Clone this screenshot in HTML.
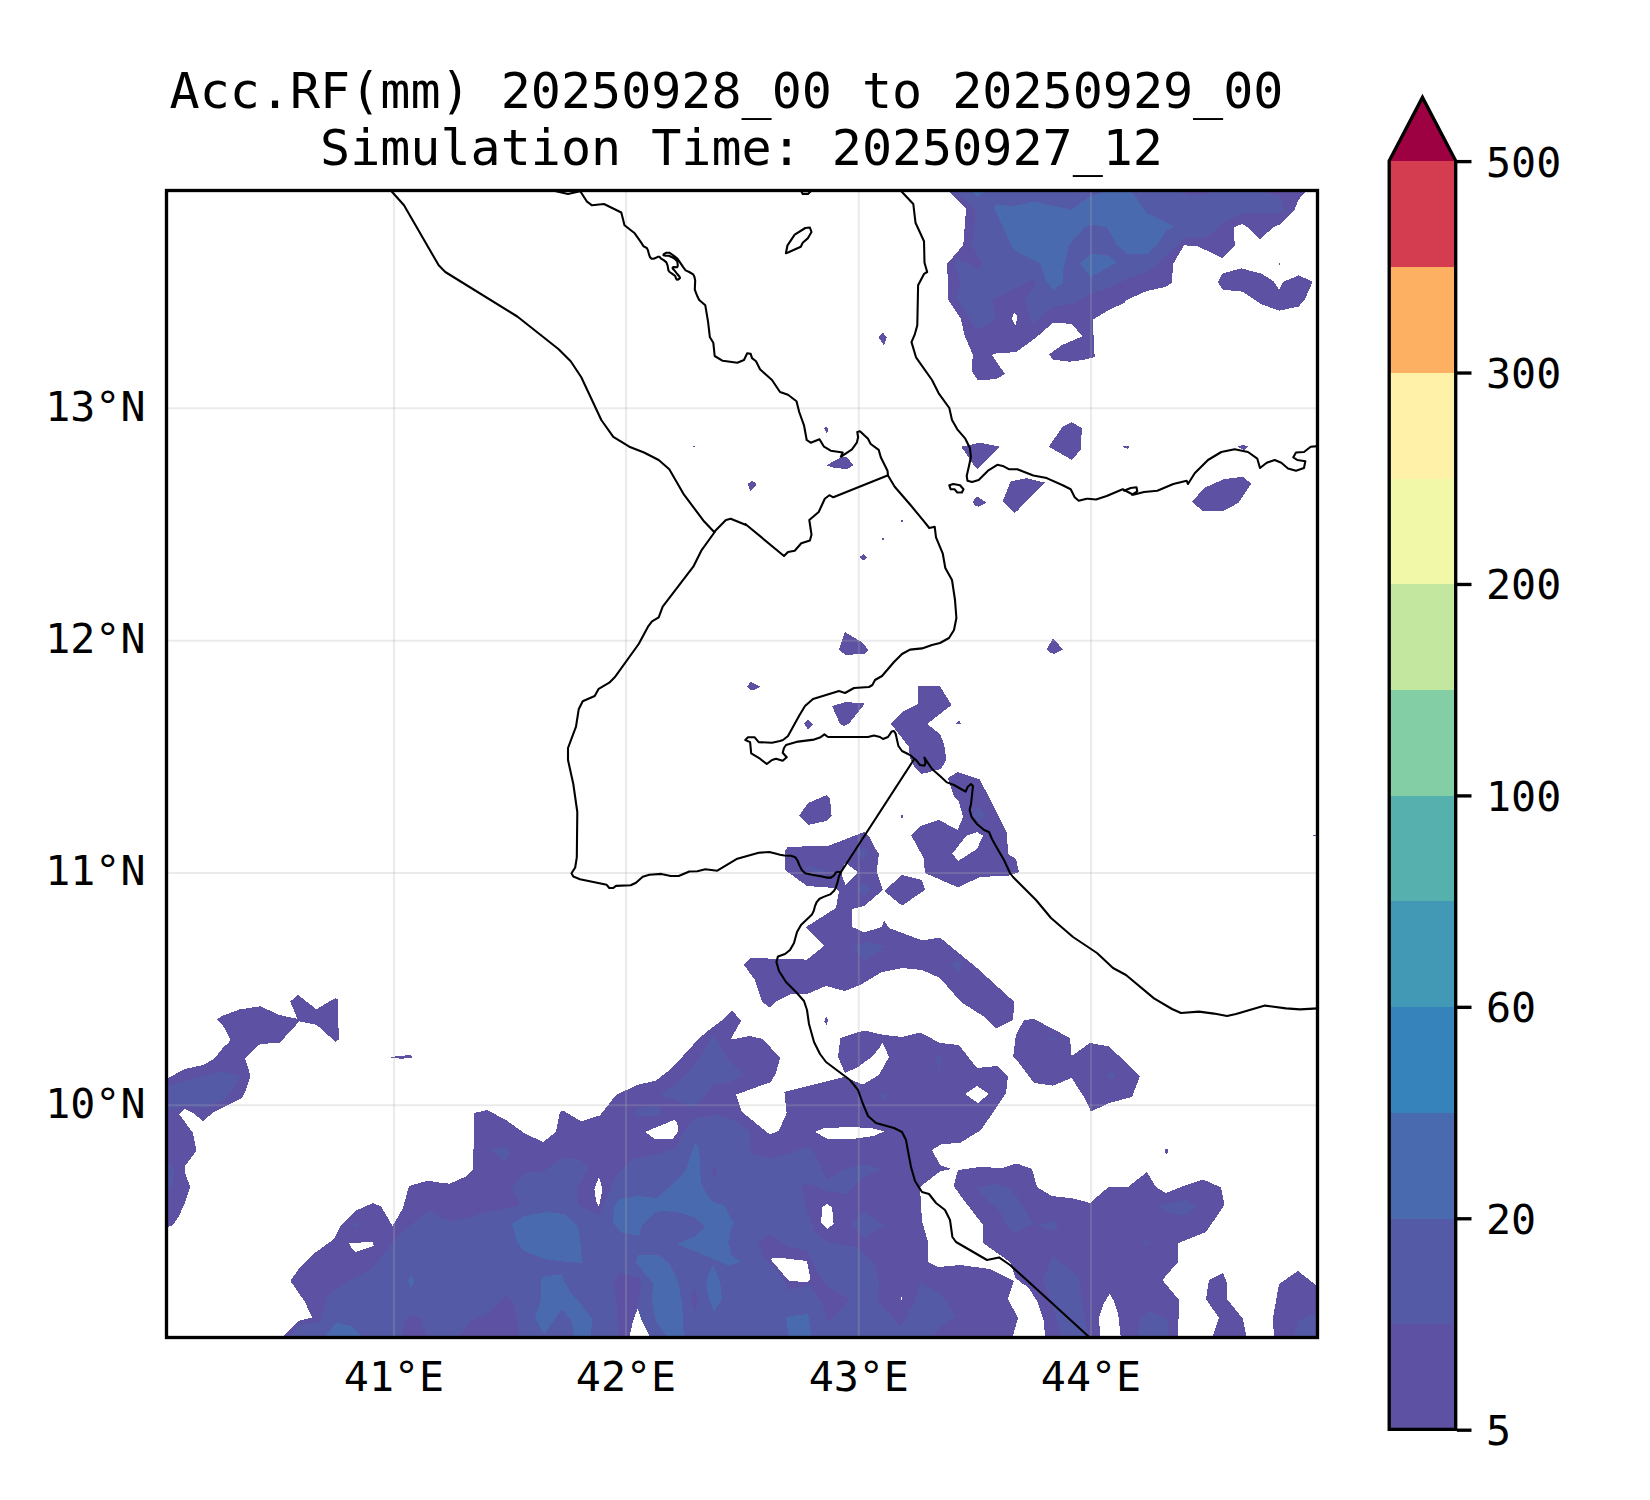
<!DOCTYPE html>
<html lang="en"><head><meta charset="utf-8"><title>Acc.RF(mm) 20250928_00 to 20250929_00</title>
<style>
html,body{margin:0;padding:0;background:#fff;}
body{width:1650px;height:1500px;overflow:hidden;}
svg{display:block;}
text{font-family:"DejaVu Sans Mono","Liberation Mono",monospace;fill:#000;}
.t{font-size:50px;text-anchor:middle;}
.k{font-size:41.67px;}
</style></head><body>
<svg width="1650" height="1500" viewBox="0 0 1650 1500">
<rect x="0" y="0" width="1650" height="1500" fill="#ffffff"/>
<defs><clipPath id="mc"><rect x="166.5" y="190.5" width="1151" height="1147"/></clipPath>
<clipPath id="c1"><rect x="780" y="600" width="300" height="250"/></clipPath>
<clipPath id="c2"><rect x="920" y="190" width="205" height="205"/></clipPath>
<clipPath id="c3"><rect x="1125" y="190" width="193" height="205"/></clipPath>
<clipPath id="c4"><rect x="730" y="850" width="290" height="195"/></clipPath>
<clipPath id="c5"><rect x="730" y="1045" width="290" height="293"/></clipPath>
<clipPath id="c6"><rect x="1020" y="1045" width="298" height="293"/></clipPath>
<clipPath id="c7"><rect x="440" y="1045" width="290" height="293"/></clipPath>
<clipPath id="c8"><rect x="440" y="950" width="290" height="95"/></clipPath>
<clipPath id="c9"><rect x="166" y="1045" width="274" height="293"/></clipPath>
<clipPath id="c10"><rect x="166" y="950" width="274" height="95"/></clipPath>
</defs>
<g clip-path="url(#mc)" shape-rendering="crispEdges" stroke="none" fill-rule="evenodd">
<g>
<path fill="#5c51a3" d="M692.0 446.1 L694.7 445.6 L694.7 447.5Z"/>
<path fill="#5c51a3" d="M878.7 337.3 L883.2 332.8 L886.7 337.3 L884.0 345.3Z"/>
<path fill="#5c51a3" d="M824.0 428.0 L826.7 426.7 L828.5 429.3 L826.7 433.3Z"/>
<path fill="#5c51a3" d="M826.1 465.3 L841.3 457.3 L846.7 456.8 L853.3 465.3 L846.7 469.3 L833.3 467.5Z"/>
<path fill="#5c51a3" d="M747.5 484.0 L752.0 480.8 L756.8 484.0 L750.7 491.5Z"/>
<path fill="#5c51a3" d="M860.0 557.3 L864.0 553.9 L866.7 557.3 L863.2 560.8Z"/>
<path fill="#5c51a3" d="M901.1 520.0 L902.7 520.0 L902.7 521.6 L901.1 521.6Z"/>
<path fill="#5c51a3" d="M882.1 537.9 L883.7 537.9 L883.7 539.5 L882.1 539.5Z"/>
<path fill="#5c51a3" d="M961.3 446.7 L980.0 442.7 L1000.0 446.7 L977.3 469.3 L972.0 462.7Z"/>
<path fill="#5c51a3" d="M1048.8 446.7 L1062.7 426.7 L1071.5 422.1 L1081.9 428.0 L1080.8 449.3 L1072.0 460.0Z"/>
<path fill="#5c51a3" d="M1002.7 501.3 L1010.7 481.3 L1026.7 478.1 L1045.3 482.7 L1014.7 513.3Z"/>
<path fill="#5c51a3" d="M972.8 501.3 L977.3 496.5 L986.7 502.7 L978.7 506.7 L974.7 505.9Z"/>
<path fill="#5c51a3" d="M1121.3 446.7 L1129.3 445.9 L1128.0 448.8Z"/>
<path fill="#5c51a3" d="M1237.3 446.7 L1242.7 444.8 L1248.5 446.7 L1244.0 449.9Z"/>
<path fill="#5c51a3" d="M1192.0 502.1 L1204.0 488.0 L1224.0 479.2 L1242.7 476.8 L1251.2 483.5 L1238.7 502.7 L1224.0 510.7 L1202.7 510.7Z"/>
<path fill="#5c51a3" d="M882.1 538.1 L883.7 538.1 L883.7 539.7 L882.1 539.7Z"/>
<path fill="#5c51a3" d="M860.0 556.8 L864.0 553.9 L866.7 557.3 L864.0 560.8Z"/>
<path fill="#5c51a3" d="M746.7 686.7 L750.7 682.1 L760.8 686.7 L752.0 690.7Z"/>
<path fill="#5c51a3" d="M839.0 650.0 L845.0 632.0 L860.0 641.0 L865.0 645.0 L868.0 650.0 L865.0 653.6 L846.0 655.0Z"/>
<path fill="#5c51a3" d="M1047.0 649.0 L1053.0 638.0 L1063.0 649.6 L1054.0 654.0 L1050.0 652.4Z"/>
<path fill="#5c51a3" d="M832.0 706.0 L846.0 702.0 L865.0 703.6 L849.0 723.6 L844.0 726.0 L840.0 724.0Z"/>
<path fill="#5c51a3" d="M804.0 723.0 L808.0 719.6 L813.0 724.4 L808.0 730.0Z"/>
<path fill="#5c51a3" d="M956.0 724.0 L959.0 720.0 L961.0 724.4Z"/>
<path fill="#5c51a3" d="M918.4 686.0 L940.0 686.4 L951.6 705.0 L927.0 724.0 L940.0 734.0 L944.0 744.0 L946.4 760.0 L941.0 769.0 L928.0 772.4 L921.0 774.0 L915.0 768.0 L910.0 758.0 L909.0 747.0 L891.0 724.0 L902.0 712.0 L918.4 704.0Z"/>
<path fill="#5c51a3" d="M799.0 816.0 L808.0 803.0 L827.0 795.0 L830.0 799.0 L831.6 816.0 L826.4 821.0 L808.0 825.0Z"/>
<path fill="#5c51a3" d="M901.4 815.0 L902.8 815.0 L902.8 817.6 L901.4 817.6Z"/>
<path fill="#5c51a3" d="M948.0 778.0 L958.0 772.0 L980.0 779.6 L1007.0 833.0 L1008.0 854.0 L1016.0 859.0 L1019.0 872.0 L1009.0 875.6 L980.0 877.0 L958.0 887.4 L925.0 873.0 L923.6 858.0 L911.0 835.0 L920.0 826.0 L939.0 820.0 L957.6 830.0 L963.0 817.0 L959.0 802.0 L954.0 797.0Z M952.4 853.6 L966.0 836.0 L977.0 832.0 L983.0 835.6 L977.0 849.0 L958.0 861.0Z"/>
<path fill="#555aa7" d="M973.0 815.0 L978.0 806.0 L985.0 815.0 L979.0 822.0Z"/>
<path fill="#5c51a3" d="M1024.0 1020.0 L1034.0 1019.0 L1070.0 1038.0 L1071.6 1056.0 L1090.0 1043.0 L1109.0 1046.4 L1140.0 1076.0 L1132.0 1097.0 L1109.0 1103.0 L1091.0 1111.6 L1084.0 1097.0 L1071.6 1078.0 L1053.0 1085.6 L1034.0 1083.0 L1019.3 1063.3 L1013.3 1056.7 L1016.0 1034.7Z"/>
<path fill="#555aa7" d="M1047.0 1038.0 L1055.0 1038.0 L1053.0 1041.0Z"/>
<path fill="#555aa7" d="M1107.0 1076.0 L1110.0 1070.0 L1115.0 1076.0 L1111.0 1079.0Z"/>
<path fill="#5c51a3" d="M1312.5 835.6 L1318.0 833.6 L1318.0 836.4Z"/>
<path fill="#5c51a3" d="M388.0 1057.2 L410.0 1055.0 L412.4 1057.4 L402.0 1058.8Z"/>
</g>
<g clip-path="url(#c1)">
<path fill="#5c51a3" d="M785.0 855.0 L787.0 847.0 L829.0 845.6 L846.0 839.0 L864.0 832.0 L869.0 836.0 L878.0 854.0 L878.0 860.0 L785.0 860.0Z"/>
</g>
<g clip-path="url(#c2)">
<path fill="#5c51a3" d="M948.0 191.0 L966.0 209.0 L963.3 245.0 L947.3 263.7 L948.0 299.7 L960.7 318.3 L964.7 335.7 L972.7 354.3 L972.0 371.7 L977.3 379.7 L989.3 379.7 L998.0 378.3 L1004.7 373.7 L992.0 355.0 L996.7 353.0 L1016.0 352.3 L1036.7 337.0 L1052.7 323.0 L1071.3 323.7 L1082.7 336.3 L1062.0 345.0 L1049.3 354.3 L1052.7 359.7 L1070.0 361.7 L1084.7 359.7 L1094.7 357.0 L1092.7 319.7 L1110.7 309.0 L1130.7 300.3 L1130.7 191.0Z M1014.0 313.0 L1016.0 313.7 L1017.3 318.3 L1015.3 325.7 L1012.0 319.0Z"/>
<path fill="#555aa7" d="M955.3 191.0 L974.0 208.3 L976.0 214.3 L972.0 243.7 L976.0 253.0 L983.3 263.7 L977.3 269.0 L966.0 262.3 L957.3 259.7 L954.7 265.0 L960.7 283.0 L956.7 298.3 L976.7 329.7 L996.0 319.7 L992.7 299.7 L1034.0 279.0 L1035.3 284.3 L1025.3 299.7 L1029.3 316.3 L1034.0 323.7 L1052.7 306.3 L1071.3 304.3 L1090.0 294.3 L1110.0 287.7 L1130.7 277.0 L1130.7 191.0Z"/>
<path fill="#496aaf" d="M971.3 191.0 L977.3 196.3 L986.0 191.0Z"/>
<path fill="#496aaf" d="M994.0 207.7 L996.7 204.3 L1012.7 206.3 L1034.0 201.7 L1071.3 209.7 L1090.0 196.3 L1108.7 191.0 L1130.7 191.0 L1130.7 255.7 L1116.7 245.0 L1107.3 227.4 L1092.0 224.7 L1084.7 227.7 L1072.7 239.7 L1068.7 246.3 L1063.3 270.3 L1062.7 283.0 L1053.3 289.7 L1046.0 281.0 L1040.7 263.7 L1016.7 251.7 L1011.3 245.0Z"/>
<path fill="#496aaf" d="M1080.0 263.7 L1090.7 253.7 L1108.7 255.7 L1116.0 263.0 L1090.7 277.0Z"/>
</g>
<g clip-path="url(#c3)">
<path fill="#5c51a3" d="M1119.3 303.3 L1146.7 291.0 L1165.3 287.0 L1171.7 283.0 L1173.3 263.7 L1184.0 245.3 L1197.3 246.1 L1222.7 258.1 L1234.7 245.7 L1234.0 227.4 L1242.0 223.9 L1248.0 227.4 L1260.0 239.0 L1273.3 227.4 L1280.0 224.3 L1294.7 209.7 L1298.0 200.3 L1306.0 191.0 L1119.3 191.0Z"/>
<path fill="#555aa7" d="M1119.3 281.3 L1148.0 271.7 L1168.0 254.3 L1184.0 238.3 L1205.3 238.3 L1225.3 221.7 L1242.7 213.0 L1280.7 213.0 L1284.0 208.3 L1279.3 197.0 L1261.3 191.0 L1210.7 191.0 L1202.7 195.0 L1189.3 195.7 L1178.7 191.0 L1119.3 191.0Z"/>
<path fill="#496aaf" d="M1119.3 248.7 L1126.7 254.3 L1147.3 254.1 L1158.7 242.3 L1166.7 229.7 L1174.7 226.6 L1146.7 213.0 L1141.3 205.0 L1131.3 191.0 L1119.3 191.0Z"/>
<path fill="#5c51a3" d="M1218.0 282.1 L1222.0 273.7 L1241.3 268.3 L1261.3 273.7 L1273.3 281.0 L1279.3 289.7 L1283.3 281.7 L1298.7 275.4 L1312.7 281.7 L1304.7 299.7 L1298.7 306.6 L1279.3 310.6 L1261.3 304.3 L1242.7 291.7 L1222.7 289.7Z"/>
<path fill="#5c51a3" d="M1278.9 263.4 L1279.9 263.4 L1279.9 264.6 L1278.9 264.6Z"/>
</g>
<g clip-path="url(#c4)">
<path fill="#5c51a3" d="M785.0 849.0 L785.0 870.0 L807.0 886.0 L835.0 888.0 L839.0 891.0 L836.0 908.0 L806.0 927.0 L824.0 946.0 L807.0 959.6 L750.0 958.0 L744.0 965.0 L755.0 980.0 L762.0 1002.0 L770.0 1007.6 L777.0 1001.0 L790.0 994.4 L808.0 993.6 L826.0 986.0 L845.0 991.0 L860.0 985.0 L882.0 972.0 L902.0 968.0 L922.0 970.0 L940.0 978.0 L961.0 1002.0 L986.0 1018.0 L996.0 1028.4 L1013.0 1020.0 L1014.4 1002.0 L977.0 968.0 L940.0 937.6 L922.0 940.4 L889.0 928.0 L884.0 920.4 L882.0 927.0 L864.0 932.4 L852.4 927.0 L852.0 909.0 L864.0 906.0 L883.0 890.0 L876.6 871.8 L879.0 853.4 L875.4 849.0Z"/>
<path fill="#fff" d="M841.5 874.4 L845.1 862.5 L848.4 864.9 L857.8 872.2 L845.5 884.9Z"/>
<path fill="#5c51a3" d="M884.0 891.0 L902.0 875.0 L922.0 880.0 L925.0 890.0 L902.0 905.6Z"/>
<path fill="#5c51a3" d="M728.0 1014.4 L732.0 1010.0 L741.0 1021.0 L731.0 1038.4 L733.0 1039.2 L750.0 1036.0 L763.0 1039.0 L780.0 1058.0 L777.0 1072.0 L771.0 1081.0 L750.0 1088.0 L736.0 1095.0 L729.0 1098.0Z"/>
<path fill="#5c51a3" d="M838.0 1057.0 L840.4 1038.0 L864.0 1030.4 L884.0 1035.0 L902.0 1037.0 L920.0 1032.4 L940.0 1043.0 L958.0 1045.0 L970.0 1060.0 L890.0 1060.0 L889.0 1057.0 L882.4 1043.0 L873.0 1056.0 L868.0 1060.0 L839.0 1060.0Z"/>
<path fill="#5c51a3" d="M1031.0 1019.0 L1024.0 1020.0 L1016.0 1034.6 L1013.2 1056.6 L1019.2 1063.2 L1031.0 1078.0Z"/>
<path fill="#555aa7" d="M853.0 946.0 L866.0 941.6 L885.0 946.0 L864.0 961.0Z"/>
<path fill="#555aa7" d="M950.0 964.0 L957.0 960.0 L963.0 964.0 L959.0 972.0Z"/>
<path fill="#555aa7" d="M804.0 869.0 L810.0 866.0 L826.0 871.0 L820.0 873.0Z"/>
<path fill="#555aa7" d="M994.0 1002.0 L997.0 1000.0 L998.0 1003.0Z"/>
<path fill="#5c51a3" d="M825.0 1018.0 L827.0 1017.0 L828.0 1021.0 L826.4 1025.0 L824.4 1021.6Z"/>
</g>
<g clip-path="url(#c5)">
<path fill="#5c51a3" d="M729.0 1044.0 L1031.0 1044.0 L1031.0 1339.0 L729.0 1339.0Z"/>
<path fill="#fff" d="M763.0 1039.0 L780.0 1058.0 L776.0 1073.0 L771.0 1082.0 L736.0 1094.6 L742.0 1112.0 L770.0 1134.6 L779.0 1130.6 L786.6 1113.0 L784.4 1092.0 L844.0 1077.0 L863.0 1084.6 L879.0 1075.0 L889.0 1057.0 L883.0 1043.0 L873.0 1056.0 L858.0 1067.0 L845.0 1073.0 L838.0 1057.0 L839.6 1044.0Z"/>
<path fill="#fff" d="M958.0 1044.0 L977.0 1068.0 L997.0 1066.0 L1008.0 1076.0 L1006.0 1093.0 L996.0 1108.0 L981.0 1130.0 L960.0 1143.0 L942.0 1144.0 L932.0 1150.0 L940.0 1165.0 L951.0 1169.0 L940.0 1171.4 L920.0 1187.0 L922.0 1221.0 L928.0 1242.0 L928.0 1262.0 L938.0 1267.0 L960.0 1265.0 L990.0 1269.0 L1014.0 1281.0 L1008.0 1299.0 L1018.0 1318.0 L1012.0 1339.0 L1031.0 1339.0 L1031.0 1288.0 L1016.0 1279.0 L1010.0 1262.0 L983.0 1243.0 L983.0 1225.0 L963.0 1199.0 L953.6 1186.0 L958.0 1170.0 L979.0 1167.0 L1003.0 1168.0 L1016.0 1163.4 L1031.0 1167.0 L1034.0 1083.0 L1019.2 1063.2 L1013.2 1056.6 L1014.8 1044.0Z"/>
<path fill="#fff" d="M815.0 1132.0 L824.0 1128.0 L854.0 1127.0 L874.0 1128.6 L884.0 1131.4 L874.0 1136.0 L850.0 1139.4 L828.0 1139.0Z"/>
<path fill="#fff" d="M821.0 1223.0 L822.4 1207.0 L827.0 1204.0 L832.0 1207.0 L833.6 1224.0 L827.0 1229.0Z"/>
<path fill="#fff" d="M770.0 1258.6 L782.0 1258.0 L807.0 1261.0 L810.6 1279.0 L807.0 1282.0 L789.0 1281.0Z"/>
<path fill="#fff" d="M965.0 1094.0 L977.0 1086.0 L989.0 1094.0 L978.0 1103.0Z"/>
<path fill="#fff" d="M901.0 1297.0 L902.2 1297.0 L902.2 1300.2 L901.0 1300.2Z"/>
<path fill="#555aa7" d="M729.0 1118.0 L750.0 1131.0 L750.0 1149.0 L753.0 1154.0 L770.0 1158.0 L788.0 1154.0 L810.0 1146.0 L816.0 1157.0 L827.0 1180.0 L842.0 1170.0 L864.0 1164.0 L881.0 1169.0 L863.0 1178.0 L846.0 1194.0 L826.0 1191.0 L808.0 1183.0 L801.6 1187.4 L808.0 1215.0 L816.0 1233.0 L828.0 1242.0 L858.0 1248.0 L874.0 1263.0 L879.0 1281.0 L878.0 1301.0 L901.0 1327.0 L914.0 1303.0 L920.0 1283.0 L940.0 1293.0 L956.0 1317.0 L938.0 1329.0 L932.0 1339.0 L729.0 1339.0Z"/>
<path fill="#555aa7" d="M729.0 1061.0 L743.0 1075.0 L729.0 1082.0Z"/>
<path fill="#555aa7" d="M852.0 1224.0 L864.0 1211.0 L884.0 1225.0 L864.0 1238.0Z"/>
<path fill="#555aa7" d="M936.0 1057.0 L942.0 1056.0 L939.0 1071.0Z"/>
<path fill="#555aa7" d="M976.0 1187.4 L996.0 1184.0 L1009.0 1188.0 L1018.0 1199.0 L1026.0 1211.0 L1033.0 1224.0 L1019.0 1231.0 L1016.0 1233.0 L1005.0 1224.0 L1000.0 1211.0 L990.0 1203.0Z"/>
<path fill="#555aa7" d="M879.0 1094.0 L883.0 1092.4 L888.0 1095.0 L883.0 1099.6Z"/>
<path fill="#5c51a3" d="M758.0 1243.0 L769.0 1234.0 L788.0 1247.0 L807.0 1251.0 L814.0 1265.0 L826.0 1285.0 L850.0 1300.0 L828.0 1323.0 L822.0 1303.0 L810.0 1285.0 L789.0 1290.0 L778.0 1271.0 L763.0 1257.0Z"/>
<path fill="#fff" d="M770.0 1258.6 L782.0 1258.0 L807.0 1261.0 L810.6 1279.0 L807.0 1282.0 L789.0 1281.0Z"/>
<path fill="#496aaf" d="M786.0 1317.0 L808.0 1314.0 L812.0 1339.0 L789.0 1339.0Z"/>
<path fill="#496aaf" d="M729.0 1217.0 L734.0 1223.0 L729.0 1233.0Z"/>
<path fill="#496aaf" d="M729.0 1253.0 L741.0 1262.0 L729.0 1266.0Z"/>
</g>
<g clip-path="url(#c6)">
<path fill="#5c51a3" d="M1019.0 1164.6 L1032.0 1169.0 L1037.0 1187.0 L1052.0 1196.0 L1074.0 1198.6 L1090.0 1203.0 L1108.0 1187.4 L1128.0 1187.0 L1147.0 1172.0 L1156.0 1187.0 L1166.0 1193.0 L1186.0 1185.0 L1203.0 1179.4 L1221.0 1187.4 L1224.4 1205.0 L1206.0 1232.0 L1178.4 1243.0 L1178.0 1262.0 L1162.4 1280.0 L1179.0 1300.0 L1178.0 1339.0 L1121.0 1339.0 L1118.0 1313.0 L1114.0 1301.0 L1109.6 1294.0 L1104.0 1303.0 L1099.0 1318.0 L1100.4 1339.0 L1045.0 1339.0 L1044.0 1321.0 L1037.0 1301.0 L1028.0 1287.0 L1019.0 1281.4Z"/>
<path fill="#5c51a3" d="M1206.0 1299.0 L1209.0 1280.0 L1223.0 1273.0 L1227.0 1283.0 L1227.0 1299.0 L1243.0 1319.0 L1247.0 1339.0 L1212.0 1339.0 L1219.0 1318.0Z"/>
<path fill="#5c51a3" d="M1274.0 1339.0 L1273.0 1318.0 L1279.0 1284.0 L1298.0 1271.0 L1318.0 1286.6 L1318.0 1339.0Z"/>
<path fill="#5c51a3" d="M1165.0 1149.0 L1168.0 1149.0 L1168.0 1153.0 L1165.6 1154.0Z"/>
<path fill="#555aa7" d="M976.0 1187.4 L996.0 1184.0 L1009.0 1188.0 L1018.0 1199.0 L1026.0 1211.0 L1033.0 1224.0 L1019.0 1231.0 L1016.0 1233.0 L1005.0 1224.0 L1000.0 1211.0 L990.0 1203.0Z"/>
<path fill="#555aa7" d="M1037.0 1225.0 L1054.0 1221.0 L1058.0 1225.0 L1053.0 1231.0Z"/>
<path fill="#555aa7" d="M1159.0 1206.0 L1184.0 1200.0 L1196.0 1206.6 L1185.0 1215.4 L1172.0 1214.0Z"/>
<path fill="#555aa7" d="M1143.6 1242.0 L1146.4 1240.0 L1149.0 1243.0 L1146.4 1246.0Z"/>
<path fill="#555aa7" d="M1053.0 1256.0 L1079.0 1277.0 L1082.0 1301.0 L1087.0 1329.0 L1089.0 1339.0 L1062.0 1339.0 L1052.0 1303.0 L1043.0 1280.0Z"/>
<path fill="#555aa7" d="M1137.0 1339.0 L1140.0 1319.0 L1148.0 1311.0 L1167.0 1318.0 L1169.0 1339.0Z"/>
<path fill="#555aa7" d="M1293.0 1339.0 L1299.0 1320.0 L1318.0 1312.0 L1318.0 1339.0Z"/>
</g>
<g clip-path="url(#c7)">
<path fill="#5c51a3" d="M439.0 1044.0 L741.0 1044.0 L741.0 1339.0 L439.0 1339.0Z"/>
<path fill="#fff" d="M439.0 1044.0 L694.0 1044.0 L672.0 1068.0 L656.0 1080.6 L637.0 1085.0 L616.0 1095.0 L600.0 1115.4 L581.0 1121.4 L563.0 1110.6 L560.0 1112.0 L556.0 1132.0 L543.0 1142.0 L524.0 1133.0 L506.0 1120.0 L487.0 1110.0 L474.4 1113.0 L473.0 1169.0 L467.0 1176.0 L450.0 1183.6 L439.0 1183.0Z"/>
<path fill="#fff" d="M645.0 1132.0 L674.0 1120.0 L677.0 1122.0 L678.4 1131.0 L673.0 1138.6 L655.0 1139.0Z"/>
<path fill="#fff" d="M594.4 1189.0 L599.0 1177.0 L602.4 1189.0 L599.0 1207.0 L596.0 1201.0Z"/>
<path fill="#fff" d="M629.0 1339.0 L633.0 1321.0 L637.6 1309.0 L642.0 1321.0 L651.0 1339.0Z"/>
<path fill="#fff" d="M736.0 1094.6 L742.0 1093.0 L742.0 1112.0Z"/>
<path fill="#555aa7" d="M439.0 1217.0 L450.0 1221.0 L468.0 1218.6 L482.0 1213.0 L520.0 1205.0 L511.6 1188.0 L524.0 1173.0 L544.0 1171.0 L562.0 1158.0 L580.0 1160.0 L589.0 1168.0 L577.0 1188.0 L578.0 1205.0 L599.0 1215.0 L606.0 1199.0 L616.0 1175.0 L632.0 1159.0 L660.0 1153.0 L676.0 1148.0 L683.0 1133.0 L695.0 1118.0 L718.0 1115.0 L741.0 1122.0 L741.0 1339.0 L439.0 1339.0Z"/>
<path fill="#555aa7" d="M661.0 1095.0 L685.0 1076.0 L703.0 1053.6 L709.0 1040.0 L717.0 1039.6 L727.0 1058.0 L744.0 1076.0 L728.4 1082.6 L713.0 1085.0 L709.0 1091.0 L695.0 1107.0Z"/>
<path fill="#555aa7" d="M632.0 1113.0 L640.0 1108.0 L658.0 1106.0 L661.0 1111.0 L656.0 1116.0 L638.0 1116.0Z"/>
<path fill="#555aa7" d="M489.6 1150.0 L505.0 1147.0 L510.4 1150.0 L505.0 1161.0Z"/>
<path fill="#5c51a3" d="M457.0 1339.0 L470.0 1322.0 L488.0 1313.0 L506.0 1295.0 L513.0 1303.0 L517.0 1319.0 L520.0 1339.0Z"/>
<path fill="#5c51a3" d="M614.0 1281.0 L620.0 1273.0 L640.0 1278.0 L641.0 1285.0 L637.0 1309.0 L630.0 1339.0 L618.0 1339.0 L617.0 1305.0Z"/>
<path fill="#5c51a3" d="M712.0 1170.0 L714.4 1165.0 L717.0 1170.0 L714.0 1179.0Z"/>
<path fill="#5c51a3" d="M691.0 1299.0 L694.4 1287.0 L698.0 1299.0 L694.4 1313.0Z"/>
<path fill="#5c51a3" d="M655.0 1242.0 L656.4 1239.0 L658.0 1243.0Z"/>
<path fill="#5c51a3" d="M485.4 1261.4 L487.2 1261.4 L487.2 1263.0 L485.4 1263.0Z"/>
<path fill="#fff" d="M629.0 1339.0 L633.0 1321.0 L637.6 1309.0 L642.0 1321.0 L651.0 1339.0Z"/>
<path fill="#496aaf" d="M512.0 1224.0 L524.0 1216.0 L546.0 1212.0 L564.0 1214.0 L578.0 1226.0 L581.0 1247.0 L582.0 1263.0 L568.0 1262.0 L544.0 1259.0 L524.0 1251.0 L517.0 1242.0Z"/>
<path fill="#496aaf" d="M535.0 1318.0 L541.0 1299.0 L541.6 1277.0 L562.0 1274.0 L564.0 1281.0 L572.0 1295.0 L580.0 1303.0 L592.0 1319.0 L591.0 1339.0 L575.0 1339.0 L571.0 1320.0 L562.0 1309.0 L544.0 1334.0Z"/>
<path fill="#496aaf" d="M613.0 1222.0 L614.0 1207.0 L619.0 1199.0 L637.0 1196.0 L657.0 1198.0 L672.0 1185.0 L686.0 1170.0 L695.0 1143.0 L699.0 1149.0 L701.0 1183.0 L706.0 1193.0 L714.0 1203.0 L724.0 1205.0 L734.0 1225.0 L728.0 1243.0 L734.0 1253.0 L741.0 1257.0 L741.0 1264.0 L730.0 1266.0 L706.0 1256.0 L677.0 1244.0 L694.0 1237.0 L705.0 1226.0 L695.0 1218.0 L682.0 1213.0 L666.0 1211.0 L655.0 1212.0 L642.0 1225.0 L639.0 1236.0 L620.0 1232.0Z"/>
<path fill="#496aaf" d="M636.0 1262.0 L638.0 1255.0 L658.0 1255.0 L669.0 1263.0 L678.0 1281.0 L682.0 1303.0 L684.0 1339.0 L668.0 1339.0 L656.0 1321.0 L652.0 1303.0 L653.0 1284.0Z"/>
<path fill="#496aaf" d="M706.0 1281.0 L713.0 1265.0 L720.0 1281.0 L722.0 1299.0 L714.0 1312.0 L708.0 1295.0Z"/>
</g>
<g clip-path="url(#c8)">
<path fill="#5c51a3" d="M612.7 1100.1 L617.0 1094.8 L636.4 1085.8 L655.2 1080.7 L676.4 1063.3 L697.0 1040.3 L706.7 1031.8 L721.2 1020.9 L732.1 1010.0 L741.2 1020.3 L730.9 1039.7 L733.3 1040.7 L748.5 1036.3 L763.6 1038.2 L780.6 1057.3 L775.8 1074.2 L770.3 1081.5 L752.7 1087.0 L737.0 1094.2 L736.4 1100.1Z"/>
<path fill="#555aa7" d="M661.2 1094.8 L684.8 1076.1 L703.0 1053.6 L709.1 1040.3 L713.3 1036.3 L717.0 1039.7 L727.3 1057.9 L744.2 1076.1 L728.5 1082.7 L713.3 1085.2 L709.1 1091.2 L703.0 1100.1 L665.5 1100.1Z"/>
</g>
<g clip-path="url(#c9)">
<path fill="#5c51a3" d="M226.0 1044.0 L214.0 1059.0 L203.0 1065.0 L185.0 1069.0 L166.0 1079.0 L166.0 1228.0 L173.0 1225.0 L179.0 1216.0 L184.0 1205.0 L190.4 1187.0 L185.0 1173.0 L185.0 1166.0 L196.4 1151.0 L193.0 1133.0 L179.0 1114.0 L185.0 1109.0 L193.0 1113.0 L203.0 1121.0 L214.0 1112.0 L242.0 1098.0 L246.0 1090.0 L250.6 1076.0 L245.0 1058.0 L260.0 1044.0Z"/>
<path fill="#5c51a3" d="M280.0 1339.0 L298.0 1321.0 L312.0 1317.4 L305.0 1302.0 L290.4 1281.0 L300.0 1267.0 L312.0 1255.0 L334.0 1239.0 L341.0 1225.0 L355.0 1211.0 L373.0 1203.0 L381.0 1206.6 L392.6 1226.0 L403.0 1208.0 L409.0 1186.0 L428.0 1180.6 L446.0 1183.6 L461.0 1180.0 L461.0 1339.0Z M349.0 1243.0 L373.0 1242.0 L373.6 1246.0 L355.0 1252.0 L352.0 1249.0Z"/>
<path fill="#555aa7" d="M166.0 1087.0 L186.0 1080.6 L220.0 1071.0 L240.0 1076.0 L233.0 1089.0 L225.0 1099.0 L203.0 1108.6 L186.0 1105.0 L166.0 1111.0Z"/>
<path fill="#555aa7" d="M166.0 1160.0 L174.0 1169.0 L173.0 1183.0 L166.0 1197.0Z"/>
<path fill="#555aa7" d="M288.0 1339.0 L300.0 1325.0 L320.0 1322.0 L326.0 1303.0 L326.0 1297.0 L352.0 1279.0 L372.0 1269.0 L392.0 1242.0 L408.0 1227.0 L430.0 1210.0 L448.0 1220.0 L461.0 1219.0 L461.0 1339.0Z"/>
<path fill="#555aa7" d="M352.0 1224.0 L355.0 1222.0 L360.0 1225.0 L355.0 1227.4Z"/>
<path fill="#5c51a3" d="M401.0 1339.0 L405.0 1322.0 L411.0 1315.0 L421.0 1319.0 L427.0 1339.0Z"/>
<path fill="#496aaf" d="M323.0 1339.0 L336.0 1323.0 L352.0 1326.0 L364.0 1339.0Z"/>
<path fill="#496aaf" d="M408.0 1281.0 L411.0 1275.0 L414.4 1281.0 L411.0 1288.0Z"/>
</g>
<g clip-path="url(#c10)">
<path fill="#5c51a3" d="M165.8 1078.5 L184.0 1068.4 L202.2 1065.9 L216.0 1058.9 L222.5 1053.1 L230.5 1039.3 L223.3 1026.2 L217.2 1019.3 L221.8 1016.0 L239.3 1009.5 L260.4 1006.3 L279.3 1015.0 L297.5 1018.9 L290.2 1001.5 L297.9 994.9 L316.4 1009.2 L335.3 998.1 L337.5 999.3 L338.9 1039.3 L335.3 1041.7 L316.4 1024.7 L299.3 1021.4 L280.0 1042.5 L260.7 1044.1 L245.1 1056.3 L250.9 1075.6 L245.1 1095.3 L239.3 1098.9 L208.0 1117.1 L203.6 1120.0 L191.3 1111.3 L185.5 1108.7 L178.9 1112.7 L181.8 1121.5 L165.8 1121.5Z"/>
<path fill="#555aa7" d="M165.8 1090.9 L189.1 1080.0 L221.1 1070.8 L240.0 1075.6 L231.3 1093.1 L224.0 1098.2 L203.6 1109.1 L189.1 1105.5 L173.1 1112.7 L165.8 1114.9Z"/>
</g>
<g>
<path fill="#555aa7" d="M863.6 847.1 L868.7 853.3 L863.6 859.8 L857.1 852.5Z"/>
<path fill="#555aa7" d="M864.0 883.1 L870.9 890.0 L864.4 895.8 L856.4 890.4Z"/>
</g>
</g>
<g stroke="#b0b0b0" stroke-opacity="0.25" stroke-width="2.08" fill="none">
<line x1="394" y1="190.5" x2="394" y2="1337.5"/>
<line x1="626" y1="190.5" x2="626" y2="1337.5"/>
<line x1="858.8" y1="190.5" x2="858.8" y2="1337.5"/>
<line x1="1091" y1="190.5" x2="1091" y2="1337.5"/>
<line x1="166.5" y1="408.3" x2="1317.5" y2="408.3"/>
<line x1="166.5" y1="640.8" x2="1317.5" y2="640.8"/>
<line x1="166.5" y1="873" x2="1317.5" y2="873"/>
<line x1="166.5" y1="1105.2" x2="1317.5" y2="1105.2"/>
</g>
<g clip-path="url(#mc)" fill="none" stroke="#000" stroke-width="2.08" stroke-linejoin="round" stroke-linecap="round">
<path d="M391.5 191.2 L404.0 205.3 L438.7 265.3 L445.3 272.0 L517.3 316.5 L558.7 349.3 L570.7 361.3 L581.3 377.3 L601.3 420.0 L613.3 436.8 L629.3 446.7 L644.0 452.5 L658.7 460.0 L669.3 469.3 L684.0 494.7 L704.0 521.3 L714.1 532.0"/>
<path d="M556.0 191.2 L568.0 193.9 L580.0 191.2"/>
<path d="M580.8 192.0 L586.7 201.3 L592.0 205.3 L604.0 204.0 L621.3 212.5 L624.5 225.3 L634.7 233.3 L640.0 240.8 L641.6 243.2 L643.6 246.4 L646.8 248.0 L648.0 250.4 L649.0 254.4 L650.0 257.2 L651.6 258.6 L653.6 258.8 L656.0 257.8 L658.0 256.7 L659.6 256.8 L660.8 258.4 L664.0 260.4 L666.4 262.4 L667.6 265.6 L668.4 270.4 L669.6 272.0 L672.0 273.6 L675.2 276.0 L676.0 278.4 L676.8 279.6 L678.4 279.4 L680.0 278.0 L679.6 276.8 L677.2 274.0 L674.8 270.8 L672.8 268.8 L672.6 267.6 L673.6 267.0 L677.2 267.2 L677.8 265.6 L677.4 262.4 L677.2 261.2 L675.2 259.2 L672.0 257.2 L668.8 255.8 L664.8 255.6 L663.4 255.2 L663.8 254.2 L666.0 252.8 L669.6 252.8 L673.6 255.6 L677.6 258.8 L680.0 262.4 L683.2 267.2 L685.6 270.4 L689.2 272.0 L693.2 274.4 L694.4 276.8 L695.2 280.4 L694.8 289.6 L696.0 292.8 L697.6 296.8 L699.2 300.0 L705.3 305.3 L708.0 321.3 L709.9 337.3 L713.3 342.7 L714.7 356.0 L722.7 360.8 L737.3 362.7 L744.0 360.0 L747.2 353.3 L750.7 353.9 L752.0 358.1 L756.0 361.3 L760.0 369.3 L772.0 380.0 L780.0 392.0 L788.0 394.7 L796.5 401.3 L799.2 412.0 L804.0 425.3 L806.7 440.0 L810.7 442.7 L819.5 439.2 L824.0 446.7 L830.7 450.7 L842.7 452.5 L840.8 456.8 L852.0 449.3 L856.8 442.7 L858.1 437.3 L857.3 432.0 L860.0 431.2 L868.0 438.7 L870.7 444.0 L878.7 449.9 L880.8 457.3 L887.5 470.7 L888.0 475.5 L894.7 486.7 L910.7 505.3 L924.0 521.3 L929.3 528.0 L934.7 526.7 L936.0 537.3 L942.7 553.3 L945.3 568.0 L952.0 580.0 L955.0 600.0 L956.4 618.0 L954.0 630.0 L949.0 638.0 L940.0 643.0 L932.0 645.0 L922.0 648.4 L910.0 649.6 L902.0 654.0 L894.0 662.0 L882.0 676.0 L875.0 680.0 L872.4 685.0 L869.0 687.0 L854.0 688.0 L845.0 693.0 L839.0 691.0 L813.0 699.0 L805.0 706.0 L799.0 716.0 L788.0 736.0 L783.0 740.0 L780.0 741.0 L772.0 742.7 L758.7 742.1 L754.7 737.3 L748.0 737.3 L745.3 740.0 L750.1 742.1 L751.2 753.3 L760.0 758.7 L766.7 764.0 L772.0 760.0 L776.0 758.7 L782.7 760.8 L786.7 757.3 L782.7 752.8 L784.0 748.0 L786.0 745.0 L798.0 741.6 L814.0 739.6 L820.0 737.6 L824.4 734.4 L828.0 737.0 L868.0 737.0 L874.0 735.6 L880.0 737.0 L883.0 739.0 L888.0 737.0 L891.6 731.6 L894.0 731.0 L895.6 733.6 L898.4 746.0 L902.0 751.0 L910.0 755.0 L916.0 760.0 L920.0 765.0 L924.4 765.6 L925.6 763.0 L924.4 757.6 L932.0 769.0 L940.0 776.0 L947.0 782.4 L954.0 785.0 L961.0 789.0 L965.6 791.6 L967.6 787.0 L971.0 784.0 L973.0 786.0 L971.0 804.0 L969.6 810.0 L971.6 817.0 L977.0 824.0 L984.0 830.0 L989.0 832.0 L992.0 839.0 L997.0 848.0 L1004.0 860.0 L1010.0 873.0 L1013.0 877.0 L1036.0 900.0 L1051.0 918.0 L1073.0 937.0 L1097.0 953.0 L1113.0 968.0 L1126.0 975.0 L1154.0 998.4 L1172.0 1009.0 L1181.0 1013.0 L1199.0 1011.6 L1214.0 1013.6 L1227.0 1016.0 L1236.0 1014.0 L1265.0 1005.6 L1286.0 1008.4 L1300.0 1009.4 L1318.0 1008.4"/>
<path d="M887.5 475.5 L833.3 497.3 L829.3 495.2 L824.8 498.7 L818.7 512.0 L809.3 520.0 L811.5 534.7 L809.9 540.5 L801.3 543.2 L794.7 550.7 L788.0 552.0 L784.0 556.0 L745.3 524.0 L746.7 525.3 L730.7 518.7 L725.9 520.0 L714.1 532.0"/>
<path d="M714.7 532.0 L701.3 550.7 L693.3 566.7 L662.7 606.7 L658.7 617.3 L652.0 621.3 L648.0 626.7 L638.7 644.0 L614.7 677.3 L609.3 682.7 L598.7 688.8 L594.7 696.0 L582.7 701.3 L578.7 709.3 L576.0 726.7 L568.0 748.0 L568.0 760.0 L573.3 784.0 L577.3 812.0 L576.8 857.3 L575.2 867.5 L571.5 873.3 L573.3 876.5 L580.0 879.2 L606.7 884.8 L609.3 888.0 L613.3 888.0 L616.0 885.9 L630.7 885.3 L636.0 882.7 L642.7 876.8 L649.3 874.7 L661.3 873.9 L670.7 876.0 L678.7 876.0 L689.3 871.5 L697.3 871.2 L705.3 869.3 L717.3 870.7 L737.3 858.7 L758.7 852.8 L769.3 852.0 L777.3 854.1 L780.0 854.7 L784.4 855.5 L790.9 855.8 L795.3 857.3 L797.5 860.5 L799.6 865.6 L801.8 870.0 L805.1 873.3 L812.0 874.7 L820.7 876.2 L826.5 877.6 L830.9 877.6 L833.5 875.8 L836.0 872.5 L838.2 871.8 L840.7 872.5"/>
<path d="M913.6 760.0 L840.7 872.5"/>
<path d="M840.7 872.5 L838.9 876.5 L837.5 882.4 L835.6 888.2 L833.8 891.1 L830.2 894.4 L823.6 896.9 L819.6 898.7 L816.7 902.0 L814.9 906.4 L813.8 910.7 L812.0 914.4 L809.1 917.3 L806.2 920.0 L801.0 925.0 L797.0 932.0 L794.0 943.0 L790.0 950.0 L785.0 954.0 L778.0 956.4 L776.4 962.0 L779.0 971.0 L786.0 982.0 L796.0 992.0 L804.0 1001.0 L807.0 1010.0 L809.0 1024.0 L814.0 1042.0 L820.0 1054.0 L826.0 1062.0 L842.0 1074.0 L850.0 1080.0 L858.0 1090.0 L863.0 1104.0 L868.0 1116.0 L876.0 1123.0 L894.0 1128.0 L902.0 1132.0 L906.0 1140.0 L908.0 1151.0 L911.0 1167.0 L915.0 1181.0 L919.0 1187.4 L922.0 1192.0 L929.0 1194.0 L936.0 1203.0 L945.0 1210.0 L950.0 1220.0 L952.4 1237.0 L956.0 1242.0 L987.0 1260.0 L999.0 1257.4 L1010.0 1265.0 L1030.0 1283.0 L1088.0 1336.0 L1092.0 1340.0"/>
<path d="M785.9 253.3 L787.5 245.3 L794.7 234.7 L805.3 228.0 L809.9 227.5 L811.5 232.0 L808.0 238.1 L802.7 242.7 L800.8 246.7 L788.0 252.5Z"/>
<path d="M801.3 191.2 L802.7 193.9 L808.0 193.9 L810.7 191.2"/>
<path d="M949.3 485.3 L953.3 484.0 L960.0 485.3 L963.5 489.3 L961.9 492.5 L957.3 492.5 L954.7 489.3 L950.7 489.3Z"/>
<path d="M901.3 191.2 L913.3 204.0 L915.5 222.7 L924.0 241.3 L924.5 262.7 L927.2 272.0 L924.0 273.9 L918.1 285.3 L917.3 325.3 L914.7 334.7 L911.5 342.1 L916.0 357.3 L932.0 380.0 L938.7 393.3 L949.3 408.0 L952.0 420.0 L957.3 429.3 L965.3 438.7 L969.9 448.0 L970.9 457.3 L968.8 466.7 L966.7 476.0 L967.5 480.8 L972.0 481.9 L978.7 480.0 L988.0 470.7 L997.3 464.8 L1002.7 465.9 L1009.3 469.3 L1017.3 469.3 L1033.3 475.5 L1046.7 478.1 L1062.7 485.3 L1070.7 489.3 L1074.7 497.3 L1078.7 500.8 L1086.7 498.7 L1088.0 498.7 L1096.0 499.5 L1106.7 496.0 L1122.7 489.3 L1133.3 494.7 L1144.0 492.0 L1157.3 490.7 L1173.3 484.0 L1186.7 480.8 L1188.0 484.0 L1194.7 473.3 L1208.0 460.0 L1221.3 452.0 L1234.7 449.3 L1248.0 452.0 L1257.3 458.7 L1260.0 468.0 L1266.7 462.7 L1274.7 460.0 L1281.3 462.7 L1288.0 468.5 L1296.0 470.7 L1304.0 468.0 L1305.3 461.3 L1297.3 460.0 L1293.3 457.3 L1296.0 452.5 L1304.0 452.0 L1310.7 446.7 L1318.7 446.1"/>
<path d="M1124.0 490.7 L1130.7 488.0 L1136.5 487.2 L1137.3 491.5 L1132.0 494.7"/>
</g>
<rect x="166.5" y="190.5" width="1151" height="1147" fill="none" stroke="#000" stroke-width="3.33"/>
<text class="t" x="726.5" y="108">Acc.RF(mm) 20250928_00 to 20250929_00</text>
<text class="t" x="741.5" y="164.5">Simulation Time: 20250927_12</text>
<text class="k" x="145.5" y="420.6" text-anchor="end">13°N</text>
<text class="k" x="145.5" y="653.1" text-anchor="end">12°N</text>
<text class="k" x="145.5" y="885.3" text-anchor="end">11°N</text>
<text class="k" x="145.5" y="1117.5" text-anchor="end">10°N</text>
<text class="k" x="394" y="1391" text-anchor="middle">41°E</text>
<text class="k" x="626" y="1391" text-anchor="middle">42°E</text>
<text class="k" x="858.8" y="1391" text-anchor="middle">43°E</text>
<text class="k" x="1091" y="1391" text-anchor="middle">44°E</text>
<g shape-rendering="crispEdges">
<rect x="1389.2" y="1323.68" width="66.5" height="106.32" fill="#5c51a3"/>
<rect x="1389.2" y="1217.97" width="66.5" height="106.32" fill="#555aa7"/>
<rect x="1389.2" y="1112.25" width="66.5" height="106.32" fill="#496aaf"/>
<rect x="1389.2" y="1006.53" width="66.5" height="106.32" fill="#3682ba"/>
<rect x="1389.2" y="900.82" width="66.5" height="106.32" fill="#4199b6"/>
<rect x="1389.2" y="795.10" width="66.5" height="106.32" fill="#56b0ad"/>
<rect x="1389.2" y="689.38" width="66.5" height="106.32" fill="#84cea5"/>
<rect x="1389.2" y="583.67" width="66.5" height="106.32" fill="#c3e79f"/>
<rect x="1389.2" y="477.95" width="66.5" height="106.32" fill="#f1f9a9"/>
<rect x="1389.2" y="372.23" width="66.5" height="106.32" fill="#fff1a8"/>
<rect x="1389.2" y="266.52" width="66.5" height="106.32" fill="#fdaf62"/>
<rect x="1389.2" y="160.80" width="66.5" height="106.32" fill="#d43d4f"/>
</g>
<path d="M1389.2 161.1 L1422.45 97.37 L1455.7 161.1 Z" fill="#9e0142"/>
<path d="M1389.2 1429.4 L1389.2 160.8 L1422.45 97.37 L1455.7 160.8 L1455.7 1429.4 Z" fill="none" stroke="#000" stroke-width="3.33" stroke-linejoin="miter" stroke-miterlimit="10"/>
<g stroke="#000" stroke-width="3.33">
<line x1="1456.9" y1="1430.20" x2="1471.5" y2="1430.20"/>
<line x1="1456.9" y1="1218.77" x2="1471.5" y2="1218.77"/>
<line x1="1456.9" y1="1007.33" x2="1471.5" y2="1007.33"/>
<line x1="1456.9" y1="795.90" x2="1471.5" y2="795.90"/>
<line x1="1456.9" y1="584.47" x2="1471.5" y2="584.47"/>
<line x1="1456.9" y1="373.03" x2="1471.5" y2="373.03"/>
<line x1="1456.9" y1="161.60" x2="1471.5" y2="161.60"/>
</g>
<text class="k" x="1486" y="1445.20">5</text>
<text class="k" x="1486" y="1233.77">20</text>
<text class="k" x="1486" y="1022.33">60</text>
<text class="k" x="1486" y="810.90">100</text>
<text class="k" x="1486" y="599.47">200</text>
<text class="k" x="1486" y="388.03">300</text>
<text class="k" x="1486" y="176.60">500</text>
</svg>
</body></html>
